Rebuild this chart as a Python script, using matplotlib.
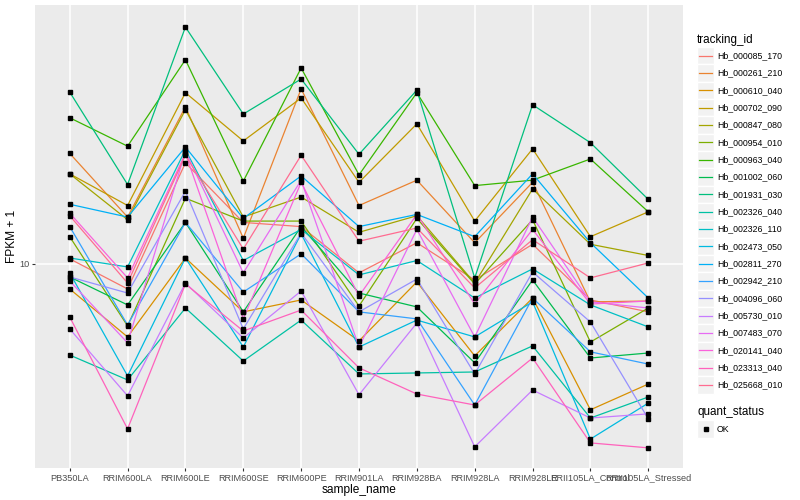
import matplotlib
matplotlib.use("Agg")
import matplotlib.pyplot as plt
from matplotlib.patches import Rectangle
from matplotlib.lines import Line2D
from matplotlib.ticker import NullLocator

plt.rcParams['font.family'] = ['Liberation Sans', 'DejaVu Sans']

samples = ["PB350LA", "RRIM600LA", "RRIM600LE", "RRIM600SE", "RRIM600PE",
           "RRIM901LA", "RRIM928BA", "RRIM928LA", "RRIM928LE",
           "RRII105LA_Control", "RRII105LA_Stressed"]

tracking_ids = ["Hb_000085_170", "Hb_000261_210", "Hb_000610_040", "Hb_000702_090",
                "Hb_000847_080", "Hb_000954_010", "Hb_000963_040", "Hb_001002_060",
                "Hb_001931_030", "Hb_002326_040", "Hb_002326_110", "Hb_002473_050",
                "Hb_002811_270", "Hb_002942_210", "Hb_004096_060", "Hb_005730_010",
                "Hb_007483_070", "Hb_020141_040", "Hb_023313_040", "Hb_025668_010"]

# ggplot default hue palette, 20 levels
colors = ["#F8766D", "#EA8331", "#D89000", "#C09B00", "#A3A500", "#7CAE00",
          "#39B600", "#00BB4E", "#00BF7D", "#00C1A3", "#00BFC4", "#00BAE0",
          "#00B0F6", "#35A2FF", "#9590FF", "#C77CFF", "#E76BF3", "#FA62DB",
          "#FF62BC", "#FF6C91"]

# FPKM + 1 per sample
hb_000085_170 = [10.3, 8.66, 17.9, 12.7, 12.4, 9.5, 11.3, 9.12, 11.2, 8.13, 7.59]
hb_000261_210 = [18.9, 13.1, 24.7, 11.6, 27.4, 14.0, 16.2, 11.3, 16.0, 8.04, 8.08]
hb_000610_040 = [8.66, 6.57, 10.35, 7.59, 8.13, 6.42, 9.02, 5.89, 8.22, 4.32, 5.01]
hb_000702_090 = [16.8, 14.0, 26.8, 20.3, 26.0, 16.0, 22.4, 12.8, 19.4, 11.7, 13.5]
hb_000847_080 = [16.8, 12.9, 24.3, 13.1, 14.7, 12.0, 13.2, 8.96, 15.4, 11.2, 10.5]
hb_000954_010 = [11.7, 7.0, 14.6, 12.8, 12.8, 7.85, 13.0, 8.91, 12.9, 6.38, 7.76]
hb_000963_040 = [23.2, 19.7, 32.4, 16.1, 30.9, 16.7, 26.8, 15.7, 16.2, 18.3, 13.5]
hb_001002_060 = [9.28, 7.9, 12.7, 7.59, 12.4, 8.46, 7.81, 5.66, 9.12, 5.82, 5.99]
hb_001931_030 = [26.9, 15.8, 39.1, 23.7, 29.0, 18.8, 27.2, 9.23, 25.0, 20.1, 14.5]
hb_002326_040 = [5.92, 5.13, 7.76, 5.72, 7.24, 5.31, 5.34, 5.37, 6.24, 4.12, 4.65]
hb_002326_110 = [10.35, 9.83, 19.3, 10.2, 12.2, 9.39, 10.2, 8.22, 9.72, 7.9, 6.96]
hb_002473_050 = [9.5, 5.25, 10.35, 6.2, 11.9, 6.2, 7.24, 6.57, 8.04, 3.65, 4.49]
hb_002811_270 = [14.1, 13.1, 19.6, 13.0, 16.6, 12.4, 13.3, 11.7, 16.8, 11.3, 8.22]
hb_002942_210 = [12.4, 7.04, 12.7, 8.51, 10.6, 7.59, 7.29, 4.44, 8.22, 6.03, 5.62]
hb_004096_060 = [9.28, 8.46, 15.2, 6.88, 11.95, 7.59, 9.17, 5.31, 9.55, 7.16, 4.10]
hb_005730_010 = [6.88, 4.68, 8.96, 6.53, 8.56, 4.71, 7.12, 3.49, 4.84, 4.12, 4.22]
hb_007483_070 = [9.07, 6.35, 19.1, 9.5, 16.2, 6.2, 12.2, 6.57, 13.1, 8.04, 7.76]
hb_020141_040 = [13.4, 9.23, 18.9, 7.29, 16.0, 8.32, 13.3, 7.94, 12.2, 7.94, 8.08]
hb_023313_040 = [7.37, 3.87, 8.91, 6.8, 7.67, 5.5, 4.73, 4.44, 5.82, 3.57, 3.47]
hb_025668_010 = [13.2, 8.96, 18.7, 10.9, 18.7, 11.4, 12.3, 8.71, 11.5, 9.23, 10.06]

series = [hb_000085_170, hb_000261_210, hb_000610_040, hb_000702_090, hb_000847_080,
          hb_000954_010, hb_000963_040, hb_001002_060, hb_001931_030, hb_002326_040,
          hb_002326_110, hb_002473_050, hb_002811_270, hb_002942_210, hb_004096_060,
          hb_005730_010, hb_007483_070, hb_020141_040, hb_023313_040, hb_025668_010]

W, H = 800, 500
fig = plt.figure(figsize=(8, 5), dpi=100)
ax = fig.add_axes([35 / W, 1 - 468 / H, (683 - 35) / W, (468 - 5) / H])
ax.set_facecolor("#EBEBEB")

x = list(range(len(samples)))
for vals, col in zip(series, colors):
    ax.plot(x, vals, color=col, lw=0.9, zorder=2)
for vals in series:
    ax.plot(x, vals, ls="none", marker="s", ms=2.3, color="black", zorder=3)

ax.set_yscale("log")
ax.set_ylim(3.09, 44.4)
ax.set_xlim(-0.6, len(samples) - 0.4)
ax.set_yticks([10])
ax.set_yticklabels(["10"])
ax.yaxis.set_minor_locator(NullLocator())
ax.set_xticks(x)
ax.set_xticklabels(samples)
ax.grid(True, color="white", lw=1.1)
ax.set_axisbelow(True)
for s in ax.spines.values():
    s.set_visible(False)
ax.tick_params(length=2.5, width=0.8, color="#333333", labelcolor="#4D4D4D",
               labelsize=6.6, pad=1.5)
ax.set_xlabel("sample_name", fontsize=8.6, labelpad=1)
ax.set_ylabel("FPKM + 1", fontsize=8.6, labelpad=1)

# legend: tracking_id
fig.text(697 / W, 1 - 40 / H, "tracking_id", fontsize=8.4, va="center", ha="left")
step = 17.33
for i, (name, col) in enumerate(zip(tracking_ids, colors)):
    yc = 55.7 + i * step
    fig.patches.append(Rectangle((697 / W, 1 - (yc + step / 2) / H), 17 / W, step / H,
                                 transform=fig.transFigure, fc="#F2F2F2", ec="white", lw=1))
    fig.lines.append(Line2D([699 / W, 712 / W], [1 - yc / H, 1 - yc / H],
                            transform=fig.transFigure, color=col, lw=0.9))
    fig.text(717 / W, 1 - yc / H, name, fontsize=6.3, va="center", ha="left")

# legend: quant_status
fig.text(697 / W, 1 - 412 / H, "quant_status", fontsize=8.4, va="center", ha="left")
fig.patches.append(Rectangle((697 / W, 1 - 437.7 / H), 17 / W, step / H,
                             transform=fig.transFigure, fc="#F2F2F2", ec="white", lw=1))
fig.lines.append(Line2D([705.5 / W], [1 - 429 / H], transform=fig.transFigure,
                        ls="none", marker="s", ms=2.3, color="black"))
fig.text(717 / W, 1 - 429 / H, "OK", fontsize=6.3, va="center", ha="left")

fig.savefig("out.png", dpi=100)
